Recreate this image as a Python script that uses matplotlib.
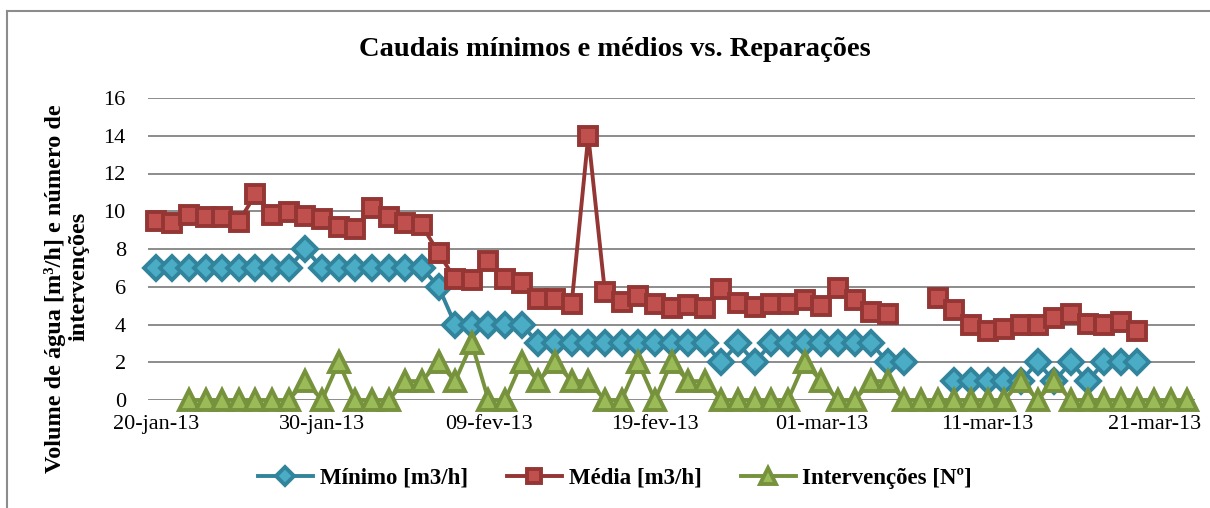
import numpy as np
import pandas as pd
import matplotlib
matplotlib.use("Agg")
import matplotlib.pyplot as plt
from matplotlib.lines import Line2D

nan = np.nan

# dias de 20-jan-13 a 23-mar-13
datas = pd.date_range("2013-01-20", "2013-03-23", freq="D")

minimo = [7, 7, 7, 7, 7, 7, 7, 7, 7, 8,
          7, 7, 7, 7, 7, 7, 7, 6, 4, 4,
          4, 4, 4, 3, 3, 3, 3, 3, 3, 3,
          3, 3, 3, 3, 2, 3, 2, 3, 3, 3,
          3, 3, 3, 3, 2, 2, nan, nan, 1, 1,
          1, 1, 1, 2, 1, 2, 1, 2, 2, 2,
          nan, nan, nan]

media = [9.5, 9.4, 9.8, 9.7, 9.7, 9.45, 10.9, 9.8, 9.95, 9.75,
         9.6, 9.15, 9.05, 10.15, 9.7, 9.4, 9.25, 7.8, 6.4, 6.35,
         7.35, 6.4, 6.2, 5.35, 5.35, 5.1, 14.0, 5.7, 5.2, 5.5,
         5.1, 4.85, 5.05, 4.85, 5.9, 5.15, 4.95, 5.1, 5.1, 5.3,
         5.0, 5.95, 5.3, 4.65, 4.55, nan, nan, 5.4, 4.75, 4.0,
         3.65, 3.75, 3.95, 4.0, 4.35, 4.55, 4.05, 3.95, 4.15, 3.65,
         nan, nan, nan]

intervencoes = [nan, nan, 0, 0, 0, 0, 0, 0, 0, 1,
                0, 2, 0, 0, 0, 1, 1, 2, 1, 3,
                0, 0, 2, 1, 2, 1, 1, 0, 0, 2,
                0, 2, 1, 1, 0, 0, 0, 0, 0, 2,
                1, 0, 0, 1, 1, 0, 0, 0, 0, 0,
                0, 0, 1, 0, 1, 0, 0, 0, 0, 0,
                0, 0, 0]

datas_ticks = pd.to_datetime(["2013-01-20", "2013-01-30", "2013-02-09", "2013-02-19",
                              "2013-03-01", "2013-03-11", "2013-03-21"])
labels_ticks = ["20-jan-13", "30-jan-13", "09-fev-13", "19-fev-13",
                "01-mar-13", "11-mar-13", "21-mar-13"]

plt.rcParams["font.family"] = ["Liberation Serif", "DejaVu Serif"]

fig = plt.figure(figsize=(12.1, 5.08), dpi=100)
ax = fig.add_axes([148 / 1210, 1 - 400 / 508, (1195 - 148) / 1210, (400 - 98) / 508])

ax.plot(datas, minimo, color="#31849B", lw=2.8, marker="D", ms=12,
        mfc="#4BACC6", mec="#31849B", mew=2.8, label="Mínimo [m3/h]",
        zorder=3, clip_on=False)
ax.plot(datas, media, color="#943634", lw=2.8, marker="s", ms=12.5,
        mfc="#C0504D", mec="#943634", mew=2.8, label="Média [m3/h]",
        zorder=4, clip_on=False)
ax.plot(datas, intervencoes, color="#76923C", lw=2.8, marker="^", ms=15,
        mfc="#9BBB59", mec="#76923C", mew=2.8, label="Intervenções [Nº]",
        zorder=5, clip_on=False)

ax.set_ylim(0, 16)
ax.set_yticks(range(0, 17, 2))
ax.set_xlim(datas[0] - pd.Timedelta(hours=11), datas[-1] + pd.Timedelta(hours=11))
ax.set_xticks(datas_ticks)
ax.set_xticklabels(labels_ticks)
ax.tick_params(axis="both", labelsize=16, length=0)
ax.tick_params(axis="x", pad=11)
ax.tick_params(axis="y", pad=16)
ax.grid(axis="y", color="#8C8C8C", lw=1.4)
ax.set_axisbelow(True)
for s in ax.spines.values():
    s.set_visible(False)

fig.text(615 / 1210, 1 - 50 / 508, "Caudais mínimos e médios vs. Reparações",
         ha="center", va="center", fontsize=20.5, fontweight="bold")
# título do eixo y em duas linhas
fig.text(55 / 1210, 1 - 289 / 508, "Volume de água [m³/h] e número de",
         rotation=90, ha="center", va="center", fontsize=17.5, fontweight="bold")
fig.text(79 / 1210, 1 - 276 / 508, "intervenções",
         rotation=90, ha="center", va="center", fontsize=17.5, fontweight="bold")

fig.legend(loc="center", bbox_to_anchor=(615 / 1210, 1 - 478 / 508), ncol=3,
           frameon=False, prop={"size": 16.5, "weight": "bold"}, markerscale=0.75,
           handlelength=2.4, columnspacing=1.7, handletextpad=0.3)

# contorno da área do gráfico
fig.add_artist(Line2D([7 / 1210, 7 / 1210], [0, 1 - 11 / 508], color="#8C8C8C", lw=1.5))
fig.add_artist(Line2D([7 / 1210, 1], [1 - 11 / 508, 1 - 11 / 508], color="#8C8C8C", lw=1.5))

fig.savefig("out.png", dpi=100)
